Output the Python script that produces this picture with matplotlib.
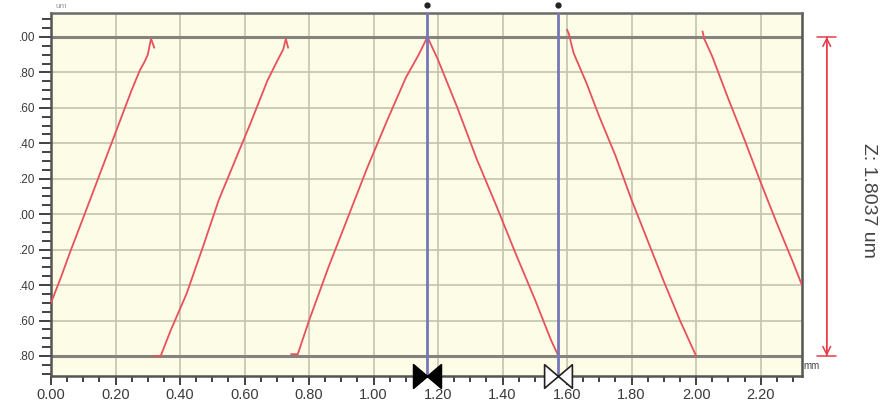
import matplotlib
matplotlib.use('Agg')
import matplotlib.pyplot as plt
import matplotlib.transforms as mtransforms
from matplotlib.path import Path
from matplotlib.ticker import MultipleLocator, FixedLocator

plt.rcParams['font.family'] = ['Liberation Sans', 'DejaVu Sans']

# profile trace (mm, um), one list per ramp
ramp1_x = [0.000, 0.030, 0.060, 0.100, 0.150, 0.200, 0.250, 0.275, 0.290, 0.300, 0.310, 0.320]
ramp1_y = [-0.50, -0.36, -0.21, -0.02, 0.22, 0.46, 0.70, 0.81, 0.86, 0.90, 0.99, 0.94]
ramp2_x = [0.320, 0.340, 0.370, 0.420, 0.470, 0.520, 0.570, 0.620, 0.670, 0.700, 0.720, 0.728, 0.735]
ramp2_y = [-0.80, -0.80, -0.66, -0.45, -0.19, 0.08, 0.30, 0.52, 0.75, 0.86, 0.93, 0.99, 0.94]
ramp3_x = [0.745, 0.765, 0.800, 0.860, 0.920, 0.980, 1.040, 1.100, 1.140, 1.167,
           1.200, 1.260, 1.320, 1.380, 1.440, 1.500, 1.550, 1.573]
ramp3_y = [-0.79, -0.79, -0.60, -0.30, -0.02, 0.26, 0.52, 0.77, 0.90, 1.00,
           0.87, 0.60, 0.31, 0.05, -0.22, -0.48, -0.71, -0.80]
ramp4_x = [1.600, 1.605, 1.620, 1.660, 1.700, 1.750, 1.800, 1.850, 1.900, 1.950, 2.000]
ramp4_y = [1.04, 1.02, 0.91, 0.74, 0.55, 0.33, 0.08, -0.15, -0.38, -0.60, -0.80]
ramp5_x = [2.020, 2.025, 2.050, 2.100, 2.150, 2.200, 2.250, 2.300, 2.328]
ramp5_y = [1.03, 0.99, 0.89, 0.65, 0.42, 0.18, -0.05, -0.27, -0.40]

cursor_x = [1.167, 1.573]
z_top, z_bottom = 1.00, -0.80
z_label = 'Z: 1.8037 um'

xtick_vals = [0.0, 0.2, 0.4, 0.6, 0.8, 1.0, 1.2, 1.4, 1.6, 1.8, 2.0, 2.2]
xtick_labels = ['0.00', '0.20', '0.40', '0.60', '0.80', '1.00', '1.20',
                '1.40', '1.60', '1.80', '2.00', '2.20']
ytick_vals = [1.0, 0.8, 0.6, 0.4, 0.2, 0.0, -0.2, -0.4, -0.6, -0.8]
ytick_labels = ['.00', '.80', '.60', '.40', '.20', '.00', '.20', '.40', '.60', '.80']

fig = plt.figure(figsize=(8.95, 4.04), dpi=100)
ax = fig.add_axes([0.057, 0.0693, 0.839, 0.8985])
ax.set_facecolor('#fdfce6')
ax.set_xlim(0, 2.328)
ax.set_ylim(-0.913, 1.135)

# grid
for v in xtick_vals[1:]:
    ax.axvline(v, color='#c4c4ae', lw=1.2, zorder=1)
for v in ytick_vals:
    ax.axhline(v, color='#c4c4ae', lw=1.2, zorder=1)
ax.axhline(z_top, color='#84847c', lw=2.2, zorder=2)
ax.axhline(z_bottom, color='#84847c', lw=2.2, zorder=2)

red = '#e8515c'
for xs, ys in [(ramp1_x, ramp1_y), (ramp2_x, ramp2_y), (ramp3_x, ramp3_y),
               (ramp4_x, ramp4_y), (ramp5_x, ramp5_y)]:
    ax.plot(xs, ys, color=red, lw=1.3, zorder=3)

# cursors
for cx in cursor_x:
    ax.axvline(cx, color='#7676b8', lw=2.0, zorder=4)
trans = mtransforms.blended_transform_factory(ax.transData, ax.transAxes)
ax.plot(cursor_x, [1.022, 1.022], 'o', color='#222222', ms=3.5,
        transform=trans, clip_on=False, zorder=6)

bowtie = Path([(-1, -0.85), (0, 0), (-1, 0.85), (-1, -0.85),
               (1, -0.85), (0, 0), (1, 0.85), (1, -0.85)],
              [Path.MOVETO, Path.LINETO, Path.LINETO, Path.CLOSEPOLY,
               Path.MOVETO, Path.LINETO, Path.LINETO, Path.CLOSEPOLY])
ax.plot([cursor_x[0]], [0], marker=bowtie, ms=20, mfc='black', mec='black',
        mew=1.2, transform=trans, clip_on=False, zorder=7, ls='none')
ax.plot([cursor_x[1]], [0], marker=bowtie, ms=20, mfc='white', mec='#222222',
        mew=1.2, transform=trans, clip_on=False, zorder=7, ls='none')

# axes / ticks
for side in ['top', 'right', 'left', 'bottom']:
    ax.spines[side].set_color('#555555')
    ax.spines[side].set_linewidth(1.8)
ax.spines['top'].set_color('#6a6a6a')
ax.xaxis.set_major_locator(FixedLocator(xtick_vals))
ax.xaxis.set_minor_locator(MultipleLocator(0.05))
ax.set_xticklabels(xtick_labels)
ax.yaxis.set_major_locator(FixedLocator(ytick_vals))
ax.yaxis.set_minor_locator(MultipleLocator(0.05))
ax.set_yticklabels(ytick_labels)
ax.tick_params(axis='x', which='major', direction='out', length=6.5, width=1.3,
               color='#333333', labelsize=10.5, labelcolor='#3a3a3a', pad=2)
ax.tick_params(axis='x', which='minor', direction='out', length=4, width=1.3,
               color='#333333')
ax.tick_params(axis='y', which='major', direction='out', length=9, width=1.3,
               color='#333333', labelsize=8.5, labelcolor='#3a3a3a', pad=2)
ax.tick_params(axis='y', which='minor', direction='out', length=6.5, width=1.3,
               color='#333333')

# Z span arrow
arrow_x = 2.405
ax.annotate('', xy=(arrow_x, z_top), xytext=(arrow_x, z_bottom),
            arrowprops=dict(arrowstyle='<->', color='#e8394a', lw=1.1,
                            mutation_scale=14, shrinkA=0, shrinkB=0),
            annotation_clip=False)
ax.annotate('', xy=(arrow_x, z_top), xytext=(arrow_x, z_bottom),
            arrowprops=dict(arrowstyle='|-|, widthA=0.5, widthB=0.5', color='#e8394a',
                            lw=1.1, mutation_scale=14, shrinkA=0, shrinkB=0),
            annotation_clip=False)
fig.text(0.970, 0.505, z_label, rotation=270, ha='center', va='center',
         fontsize=14, color='#444444')
fig.text(0.907, 0.093, 'mm', ha='center', va='center', fontsize=7, color='#444444')
fig.text(0.068, 0.984, 'um', ha='center', va='center', fontsize=6, color='#999999')

fig.savefig('out.png', dpi=100)
